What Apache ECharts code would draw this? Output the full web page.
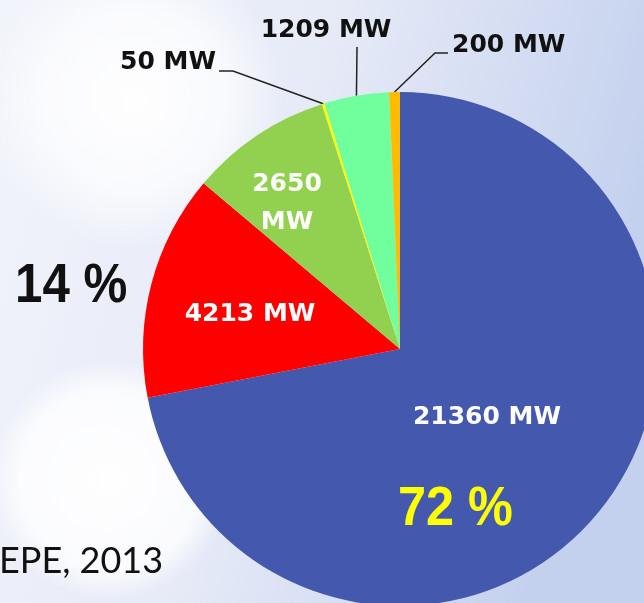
<!DOCTYPE html>
<html>
<head>
<meta charset="utf-8">
<script src="https://cdn.jsdelivr.net/npm/echarts@6/dist/echarts.min.js"></script>
<style>
  html, body { margin: 0; padding: 0; }
  #chart { width: 644px; height: 603px; }
</style>
</head>
<body>
<div id="chart"></div>
<script>
// installed capacity per source (MW), clockwise from 12 o'clock
const capacityMW = [21360, 4213, 2650, 50, 1209, 200];
const sliceColors = ['#4459ae', '#ff0000', '#92d050', '#ffff00', '#70ff9c', '#ffbb00'];
// slices whose label sits outside with a leader line
const outsideIdx = [3, 4, 5];
const sourceNote = 'EPE, 2013';

const total = capacityMW.reduce((a, b) => a + b, 0);
const pct = (v) => Math.round(v / total * 100) + ' %';

// where each label goes (hand placed, like the original slide)
const labelSpots = [
  { x: 487, y: 417, align: 'center' },
  { x: 250, y: 314, align: 'center' },
  { x: 287, y: 203, align: 'center' },
  { x: 216, y: 62, align: 'right', line: [[233, 71], [219, 71]] },
  { x: 326, y: 30, align: 'center', line: [[357, 47], [357, 47]] },
  { x: 452, y: 45, align: 'left', line: [[435, 53], [448, 53]] }
];

const chart = echarts.init(document.getElementById('chart'));

const labelFont = {
  fontFamily: 'DejaVu Sans',
  fontWeight: 'bold',
  fontSize: 25
};

const bigFont = 'bold 56px "Liberation Sans", Arial, sans-serif';

chart.setOption({
  animation: false,
  graphic: [
    {
      type: 'rect', z: -20, silent: true,
      shape: { x: 0, y: 0, width: 644, height: 603 },
      style: {
        fill: new echarts.graphic.LinearGradient(0, 0, 1, 0.3, [
          { offset: 0, color: '#f2f4fb' },
          { offset: 0.5, color: '#e6eaf7' },
          { offset: 1, color: '#c4d1ee' }
        ])
      }
    },
    {
      type: 'circle', z: -10, silent: true,
      shape: { cx: 135, cy: 100, r: 150 },
      style: {
        fill: new echarts.graphic.RadialGradient(0.5, 0.5, 0.5, [
          { offset: 0, color: 'rgba(255,255,255,0.95)' },
          { offset: 0.6, color: 'rgba(255,255,255,0.7)' },
          { offset: 1, color: 'rgba(255,255,255,0)' }
        ])
      }
    },
    {
      type: 'circle', z: -10, silent: true,
      shape: { cx: 110, cy: 480, r: 120 },
      style: {
        fill: new echarts.graphic.RadialGradient(0.5, 0.5, 0.5, [
          { offset: 0, color: 'rgba(255,255,255,0.95)' },
          { offset: 0.75, color: 'rgba(255,255,255,0.8)' },
          { offset: 1, color: 'rgba(255,255,255,0)' }
        ])
      }
    },
    {
      type: 'text', z: 10, silent: true,
      x: 15, y: 287, scaleX: 0.88,
      style: {
        text: pct(capacityMW[1]),
        fill: '#111',
        font: bigFont,
        align: 'left',
        verticalAlign: 'middle'
      }
    },
    {
      type: 'text', z: 10, silent: true,
      x: 398, y: 510, scaleX: 0.9,
      style: {
        text: pct(capacityMW[0]),
        fill: '#ffff00',
        font: bigFont,
        align: 'left',
        verticalAlign: 'middle'
      }
    },
    {
      type: 'text', z: 10, silent: true,
      x: -1, y: 561,
      style: {
        text: sourceNote,
        fill: '#111',
        font: '36px Lato, "Open Sans", sans-serif',
        align: 'left',
        verticalAlign: 'middle'
      }
    }
  ],
  series: [{
    type: 'pie',
    center: [400, 349],
    radius: 257,
    startAngle: 90,
    clockwise: true,
    silent: true,
    avoidLabelOverlap: false,
    itemStyle: { borderWidth: 0 },
    label: Object.assign({
      position: 'inside',
      color: '#fff',
      lineHeight: 38,
      formatter: (p) => p.dataIndex === 2 ? p.value + '\nMW' : p.value + ' MW'
    }, labelFont),
    labelLine: { show: false },
    labelLayout: (params) => {
      const spot = labelSpots[params.dataIndex];
      const res = { x: spot.x, y: spot.y, align: spot.align, verticalAlign: 'middle' };
      if (spot.line && params.labelLinePoints) {
        res.labelLinePoints = [params.labelLinePoints[0], spot.line[0], spot.line[1]];
      }
      return res;
    },
    data: capacityMW.map((v, i) => {
      const item = { value: v, itemStyle: { color: sliceColors[i] } };
      if (outsideIdx.includes(i)) {
        item.label = { position: 'outside', color: '#111' };
        item.labelLine = {
          show: true, length: 20, length2: 10,
          lineStyle: { color: '#222', width: 1.5 }
        };
      }
      return item;
    })
  }]
});
</script>
</body>
</html>
